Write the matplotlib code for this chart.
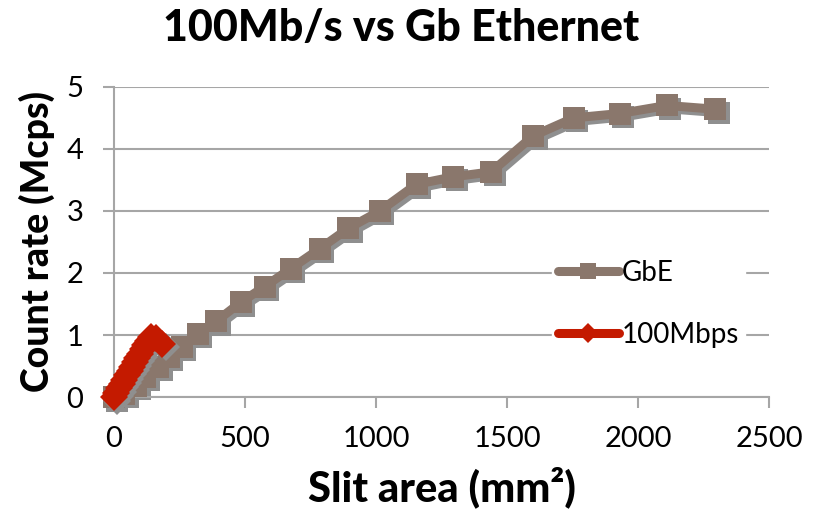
import numpy as np
import matplotlib
matplotlib.use("Agg")
import matplotlib.pyplot as plt
from matplotlib.transforms import ScaledTranslation

# GbE readout: slit area (mm^2) vs count rate (Mcps)
gbe_area = [0, 40, 85, 120, 170, 210, 260, 320, 390, 485, 575, 675, 785,
            895, 1015, 1155, 1295, 1440, 1600, 1755, 1930, 2110, 2295]
gbe_rate = [0, 0.05, 0.18, 0.33, 0.49, 0.65, 0.81, 1.02, 1.22, 1.53, 1.78,
            2.07, 2.39, 2.72, 3.0, 3.43, 3.55, 3.63, 4.21, 4.5, 4.57, 4.7, 4.64]

# 100 Mb/s readout
fe_area = [0, 10, 20, 30, 40, 50, 60, 70, 80, 90, 100, 110, 120, 130, 140,
           160, 185]
fe_rate = [0, 0.07, 0.14, 0.21, 0.28, 0.35, 0.42, 0.49, 0.56, 0.63, 0.70,
           0.77, 0.84, 0.90, 0.96, 0.95, 0.86]

x_ticks = [0, 500, 1000, 1500, 2000, 2500]
y_ticks = [0, 1, 2, 3, 4, 5]

GBE_COLOR = "#8a776c"
FE_COLOR = "#c41a00"
GRID = "#a6a6a6"
SHADOW = "#8f8f8f"

plt.rcParams["font.family"] = ["Lato", "DejaVu Sans"]

fig = plt.figure(figsize=(8.13, 5.11), dpi=100)
ax = fig.add_axes([0.140, 0.223, 0.806, 0.607])

# drop shadow: same series drawn slightly down and right underneath
shift = ax.transData + ScaledTranslation(2.5 / 72, -2.5 / 72, fig.dpi_scale_trans)

for xs, ys, col, mk, ms, lab, z in [
        (gbe_area, gbe_rate, GBE_COLOR, "s", 16.5, "GbE", 3),
        (fe_area, fe_rate, FE_COLOR, "D", 14, "100Mbps", 5)]:
    ax.plot(xs, ys, color=SHADOW, lw=6.5, marker=mk, ms=ms, mew=0,
            solid_capstyle="round", transform=shift, zorder=z - 0.5,
            clip_on=False)
    ax.plot(xs, ys, color=col, lw=6.5, marker=mk, ms=ms, mew=0,
            solid_capstyle="round", label=lab, zorder=z, clip_on=False)

ax.set_xlim(0, 2500)
ax.set_ylim(0, 5)
ax.set_xticks(x_ticks)
ax.set_yticks(y_ticks)
ax.yaxis.grid(True, color=GRID, lw=1.5)
ax.set_axisbelow(True)

for side in ("top", "right"):
    ax.spines[side].set_visible(False)
for side in ("left", "bottom"):
    ax.spines[side].set_color(GRID)
    ax.spines[side].set_linewidth(1.5)

ax.tick_params(axis="both", color=GRID, width=1.5, length=8,
               labelcolor="black", labelsize=21)
ax.tick_params(axis="y", pad=14)
ax.tick_params(axis="x", pad=13)

fig.suptitle("100Mb/s vs Gb Ethernet", x=0.494, y=0.985, fontsize=31,
             fontweight="black")
ax.set_xlabel("Slit area (mm²)", fontsize=30, fontweight="black", labelpad=10)
ax.set_ylabel("Count rate (Mcps)", fontsize=27, fontweight="black", labelpad=8)

leg = ax.legend(loc="center left", bbox_to_anchor=(0.669, 0.30), frameon=True,
                fontsize=20, handlelength=2.2, handletextpad=0.1,
                labelspacing=1.3, borderpad=0.2, borderaxespad=0,
                markerscale=0.7)
leg.get_frame().set_edgecolor("white")
leg.get_frame().set_facecolor("white")
leg.get_frame().set_alpha(1)
leg.set_zorder(6)

fig.savefig("out.png", dpi=100)
